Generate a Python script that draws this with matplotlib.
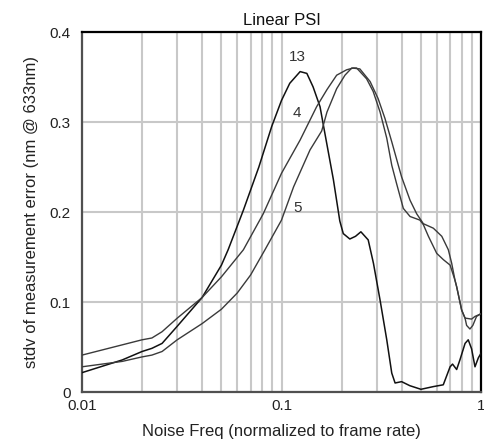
import matplotlib
matplotlib.use('Agg')
import matplotlib.pyplot as plt
import matplotlib.ticker as mticker

plt.rcParams['font.family'] = ['Liberation Sans', 'DejaVu Sans']

# noise frequency (normalized to frame rate) / stdv of error, one pair per algorithm
freq_13 = [0.01, 0.0159, 0.02, 0.0224, 0.0252, 0.03, 0.04, 0.05, 0.054, 0.0644,
           0.077, 0.0893, 0.1, 0.110, 0.124, 0.134, 0.144, 0.156, 0.162, 0.182,
           0.196, 0.204, 0.220, 0.235, 0.250, 0.272, 0.289, 0.312, 0.337, 0.357,
           0.371, 0.40, 0.44, 0.50, 0.577, 0.647, 0.70, 0.72, 0.755, 0.785,
           0.832, 0.863, 0.897, 0.933, 0.97, 1.0]
err_13 = [0.0215, 0.0356, 0.045, 0.0485, 0.054, 0.073, 0.105, 0.141, 0.158, 0.202,
          0.250, 0.295, 0.324, 0.343, 0.356, 0.354, 0.339, 0.317, 0.297, 0.236,
          0.190, 0.176, 0.170, 0.173, 0.178, 0.169, 0.143, 0.102, 0.058, 0.021,
          0.010, 0.0115, 0.007, 0.003, 0.006, 0.008, 0.028, 0.031, 0.025, 0.036,
          0.054, 0.058, 0.048, 0.028, 0.038, 0.043]

freq_4 = [0.01, 0.02, 0.0224, 0.0252, 0.03, 0.04, 0.05, 0.0644, 0.081, 0.1,
          0.124, 0.150, 0.169, 0.189, 0.212, 0.229, 0.238, 0.267, 0.288, 0.312,
          0.337, 0.357, 0.377, 0.408, 0.441, 0.494, 0.514, 0.545, 0.600, 0.648,
          0.700, 0.741, 0.755, 0.80, 0.832, 0.847, 0.88, 0.91, 0.95, 1.0]
err_4 = [0.041, 0.058, 0.060, 0.067, 0.082, 0.105, 0.128, 0.158, 0.198, 0.243,
         0.280, 0.317, 0.336, 0.352, 0.358, 0.360, 0.360, 0.348, 0.334, 0.311,
         0.282, 0.252, 0.232, 0.204, 0.195, 0.191, 0.186, 0.173, 0.154, 0.147,
         0.141, 0.124, 0.117, 0.091, 0.082, 0.074, 0.070, 0.074, 0.084, 0.087]

freq_5 = [0.01, 0.0159, 0.02, 0.0224, 0.0252, 0.03, 0.04, 0.05, 0.06, 0.07,
          0.0826, 0.1, 0.115, 0.139, 0.159, 0.169, 0.189, 0.208, 0.225, 0.247,
          0.278, 0.305, 0.330, 0.357, 0.385, 0.400, 0.441, 0.476, 0.514, 0.577,
          0.636, 0.686, 0.713, 0.741, 0.755, 0.80, 0.832, 0.84, 0.897, 0.933,
          0.98, 1.0]
err_5 = [0.028, 0.034, 0.039, 0.041, 0.045, 0.058, 0.076, 0.092, 0.110, 0.130,
         0.158, 0.191, 0.228, 0.269, 0.290, 0.311, 0.337, 0.352, 0.360, 0.359,
         0.345, 0.326, 0.304, 0.278, 0.252, 0.239, 0.213, 0.198, 0.187, 0.182,
         0.173, 0.158, 0.143, 0.124, 0.117, 0.091, 0.082, 0.082, 0.081, 0.084,
         0.086, 0.087]

curve_names = ["13", "4", "5"]
label_pos = [(0.12, 0.372), (0.12, 0.310), (0.12, 0.205)]

y_ticks = [0, 0.1, 0.2, 0.3, 0.4]
y_ticklabels = ["0", "0.1", "0.2", "0.3", "0.4"]
x_ticks = [0.01, 0.1, 1]
x_ticklabels = ["0.01", "0.1", "1"]

fig = plt.figure(figsize=(4.84, 4.43), dpi=100)
ax = fig.add_axes([82/484, 1 - 392/443, 399/484, 360/443])

ax.set_xscale("log")
ax.set_xlim(0.01, 1)
ax.set_ylim(0, 0.4)

# light grid at every decade subdivision, black marker at 0.1
ax.xaxis.set_minor_locator(mticker.LogLocator(base=10, subs=range(2, 10)))
ax.xaxis.set_minor_formatter(mticker.NullFormatter())
ax.grid(which="both", axis="x", color="#c8c8c8", lw=1.5, zorder=0)
ax.grid(which="major", axis="y", color="#c8c8c8", lw=1.5, zorder=0)
ax.axvline(0.1, color="black", lw=1.3, zorder=1)

ax.plot(freq_13, err_13, color="#111111", lw=1.1, zorder=3)
ax.plot(freq_4, err_4, color="#3a3a3a", lw=1.0, zorder=3)
ax.plot(freq_5, err_5, color="#3a3a3a", lw=1.0, zorder=3)

for name, (lx, ly) in zip(curve_names, label_pos):
    ax.text(lx, ly, name, ha="center", va="center", fontsize=11,
            color="#333333", zorder=4)

ax.set_xticks(x_ticks)
ax.set_xticklabels(x_ticklabels)
ax.set_yticks(y_ticks)
ax.set_yticklabels(y_ticklabels)
ax.tick_params(which="both", length=0, labelsize=11, colors="#222222")
ax.tick_params(axis="y", pad=8)
ax.tick_params(axis="x", pad=5)

for sp in ["left", "bottom"]:
    ax.spines[sp].set_color("#505050")
    ax.spines[sp].set_linewidth(1.6)
for sp in ["top", "right"]:
    ax.spines[sp].set_color("black")
    ax.spines[sp].set_linewidth(1.6)

ax.set_title("Linear PSI", fontsize=12, pad=5, color="#111111")
ax.set_xlabel("Noise Freq (normalized to frame rate)", fontsize=12, labelpad=8,
              color="#222222")
ax.set_ylabel("stdv of measurement error (nm @ 633nm)", fontsize=12, labelpad=8,
              color="#222222")

fig.savefig("out.png", dpi=100, facecolor="white")
